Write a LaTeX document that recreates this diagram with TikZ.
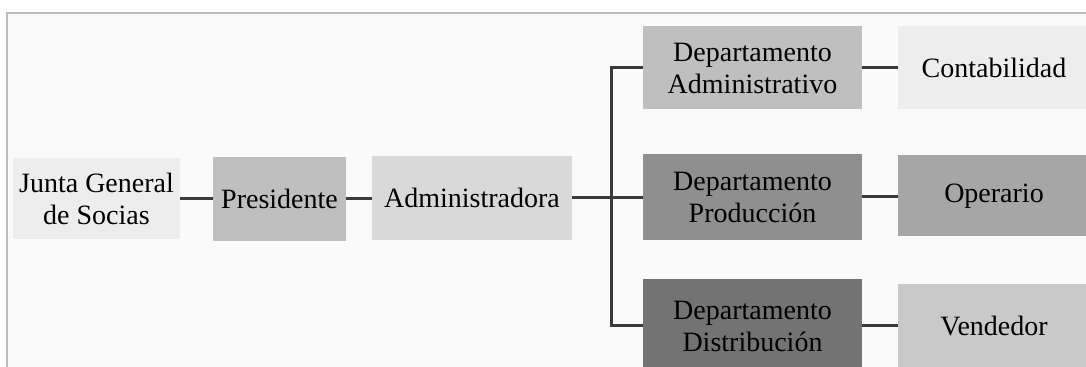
\documentclass[tikz,border=0pt]{standalone}
\usepackage{fontspec}
\setmainfont{Liberation Serif}
\usepackage{tikz}
\usetikzlibrary{positioning}
\definecolor{paper}{HTML}{FAFAFA}
\definecolor{frameline}{HTML}{BDBDBD}
\definecolor{linkline}{HTML}{3A3A3A}
\definecolor{greyA}{HTML}{EDEDED}
\definecolor{greyB}{HTML}{BFBFBF}
\definecolor{greyC}{HTML}{D9D9D9}
\definecolor{greyD}{HTML}{8F8F8F}
\definecolor{greyE}{HTML}{737373}
\definecolor{greyF}{HTML}{A6A6A6}
\definecolor{greyG}{HTML}{C9C9C9}

\begin{document}
\begin{tikzpicture}[x=0.5pt, y=-0.5pt,
    box/.style={rectangle, inner sep=0pt, align=center, text=black,
        font=\fontsize{14}{16}\selectfont},
    link/.style={draw=linkline, line width=1.5pt}]
    \useasboundingbox (0,0) rectangle (1086,367);
    % sheet with its frame
    \fill[white] (0,0) rectangle (1086,367);
    \draw[frameline, line width=1.4pt, fill=paper] (7,13) rectangle (1110,390);

    % left chain
    \node[box, fill=greyA, minimum width=83.5pt, minimum height=40.5pt] (junta) at (96.5,199) {Junta General\\de Socias};
    \node[box, fill=greyB, minimum width=66.5pt, minimum height=42pt] (pres) at (279.5,199) {Presidente};
    \node[box, fill=greyC, minimum width=100pt, minimum height=42pt] (admin) at (472,198) {Administradora};

    % departments
    \node[box, fill=greyB, minimum width=109.5pt, minimum height=41.5pt] (dadm) at (752.5,68) {Departamento\\Administrativo};
    \node[box, fill=greyD, minimum width=109.5pt, minimum height=43pt] (dprod) at (752.5,197) {Departamento\\Producción};
    \node[box, fill=greyE, minimum width=109.5pt, minimum height=47pt] (ddist) at (752.5,326) {Departamento\\Distribución};

    % staff
    \node[box, fill=greyA, minimum width=96pt, minimum height=41.5pt] (conta) at (994,68) {Contabilidad};
    \node[box, fill=greyF, minimum width=96pt, minimum height=40.5pt] (oper) at (994,196) {Operario};
    \node[box, fill=greyG, minimum width=96pt, minimum height=42pt] (vend) at (994,326) {Vendedor};

    % connectors
    \coordinate (bus) at (611,198);
    \draw[link] (junta) -- (pres);
    \draw[link] (pres.east) -- (pres.east -| admin.west);
    \draw[link] (admin.east) -- (admin.east -| dprod.west);
    \draw[link] (dadm.west) -| (bus |- ddist.west) -- (ddist.west);
    \draw[link] (dadm) -- (conta);
    \draw[link] (dprod.east) -- (dprod.east -| oper.west);
    \draw[link] (ddist) -- (vend);
\end{tikzpicture}
\end{document}
